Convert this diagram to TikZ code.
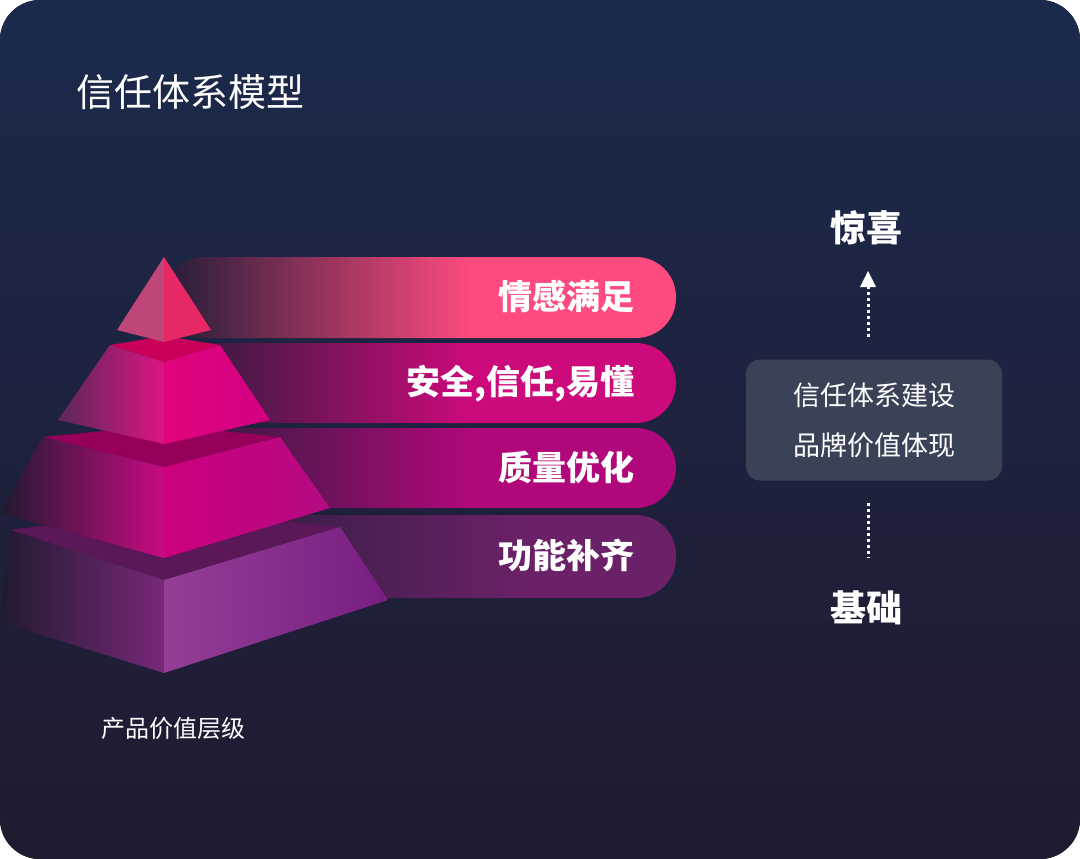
\documentclass[tikz,border=0pt]{standalone}
\usepackage{fontspec}
\setmainfont{Noto Sans CJK SC}
\newfontfamily\bfcjk{Noto Sans CJK SC}
\usetikzlibrary{arrows.meta}
\definecolor{bgtop}{HTML}{1B2A4C}
\definecolor{bgbot}{HTML}{201A30}
\definecolor{bdark}{HTML}{241D38}
\definecolor{cA}{HTML}{FF4A7F}
\definecolor{cB}{HTML}{CC0A7C}
\definecolor{cC}{HTML}{B0087A}
\definecolor{cD}{HTML}{6A2168}
\definecolor{boxc}{HTML}{3A4258}
\definecolor{t4top}{RGB}{90,24,88}
\definecolor{t4l}{RGB}{120,40,120}
\definecolor{t4ra}{RGB}{148,62,150}
\definecolor{t4rb}{RGB}{120,30,130}
\definecolor{t3top}{RGB}{150,0,90}
\definecolor{t3l}{RGB}{200,10,130}
\definecolor{t3ra}{RGB}{205,0,125}
\definecolor{t3rb}{RGB}{180,10,130}
\definecolor{t2top}{RGB}{200,0,90}
\definecolor{t2la}{RGB}{90,40,90}
\definecolor{t2lb}{RGB}{220,20,130}
\definecolor{t2ra}{RGB}{225,5,125}
\definecolor{t2rb}{RGB}{210,0,130}
\definecolor{t1l}{RGB}{190,70,120}
\definecolor{t1r}{RGB}{230,40,100}
\pgfdeclarehorizontalshading{bandA}{100bp}{color(0bp)=(bdark); color(25bp)=(bdark); color(55bp)=(cA); color(100bp)=(cA)}
\pgfdeclarehorizontalshading{bandB}{100bp}{color(0bp)=(bdark); color(25bp)=(bdark); color(55bp)=(cB); color(100bp)=(cB)}
\pgfdeclarehorizontalshading{bandC}{100bp}{color(0bp)=(bdark); color(25bp)=(bdark); color(55bp)=(cC); color(100bp)=(cC)}
\pgfdeclarehorizontalshading{bandD}{100bp}{color(0bp)=(bdark); color(25bp)=(bdark); color(60bp)=(cD); color(100bp)=(cD)}
\tikzset{
  bandtxt/.style={text=white,font=\bfcjk\bfseries\fontsize{34}{40}\selectfont,anchor=east},
  wtxt/.style={text=white},
  dotl/.style={white,line width=3pt,dash pattern=on 3pt off 3pt}
}
\begin{document}
\begin{tikzpicture}[x=1pt,y=-1pt]
\useasboundingbox (0,0) rectangle (1080,859);
\fill[top color=bgtop,bottom color=bgbot,rounded corners=40pt] (0,0) rectangle (1080,859);
\node[wtxt,anchor=west,font=\fontsize{38}{44}\selectfont] (title) at (73,92) {信任体系模型};
% bands
\shade[shading=bandA,rounded corners=40pt] (164,257) rectangle (676,338);
\shade[shading=bandB,rounded corners=40pt] (164,343) rectangle (676,423);
\shade[shading=bandC,rounded corners=40pt] (164,428) rectangle (676,508);
\shade[shading=bandD,rounded corners=40pt] (164,515) rectangle (676,598);
\node[bandtxt] (b1) at (638,297) {情感满足};
\node[bandtxt] (b2) at (638,384) {安全,信任,易懂};
\node[bandtxt] (b3) at (638,467) {质量优化};
\node[bandtxt] (b4) at (638,555) {功能补齐};
% tier 4
\fill[t4top] (10,530) -- (164,510) -- (340,527) -- (164,580) -- cycle;
\shade[left color=bgbot,right color=t4l] (10,530) -- (164,580) -- (164,673) -- (0,622) -- cycle;
\shade[left color=t4ra,right color=t4rb] (164,580) -- (340,527) -- (388,600) -- (164,673) -- cycle;
% tier 3
\fill[t3top] (43,437) -- (164,425) -- (280,437) -- (164,467) -- cycle;
\shade[left color=bgbot,right color=t3l] (43,437) -- (164,467) -- (164,558) -- (0,513) -- cycle;
\shade[left color=t3ra,right color=t3rb] (164,467) -- (280,437) -- (330,508) -- (164,558) -- cycle;
% tier 2
\fill[t2top] (110,345) -- (164,336) -- (220,345) -- (164,362) -- cycle;
\shade[left color=t2la,right color=t2lb] (110,345) -- (164,362) -- (164,444) -- (58,420) -- cycle;
\shade[left color=t2ra,right color=t2rb] (164,362) -- (220,345) -- (270,420) -- (164,444) -- cycle;
% tier 1
\fill[t1l] (164,257) -- (117,330) -- (164,342) -- cycle;
\fill[t1r] (164,257) -- (211,330) -- (164,342) -- cycle;
\node[wtxt,font=\fontsize{24}{28}\selectfont] (lvl) at (173,728) {产品价值层级};
% right side
\node[wtxt,font=\bfcjk\bfseries\fontsize{36}{42}\selectfont] (top) at (866,228) {惊喜};
\node[wtxt,font=\bfcjk\bfseries\fontsize{36}{42}\selectfont] (bot) at (866,608) {基础};
\node[fill=boxc,rounded corners=14pt,minimum width=256pt,minimum height=121pt,wtxt,align=center,font=\fontsize{27}{50}\selectfont] (box) at (874,420) {信任体系建设\\品牌价值体现};
\coordinate (a1) at (868,337);
\coordinate (a2) at (868,287);
\draw[dotl] (a1) -- (a2);
\fill[white] (860,287) -- (876,287) -- (868,271) -- cycle;
\coordinate (d1) at (868,503);
\coordinate (d2) at (868,558);
\draw[dotl] (d1) -- (d2);
\end{tikzpicture}
\end{document}
